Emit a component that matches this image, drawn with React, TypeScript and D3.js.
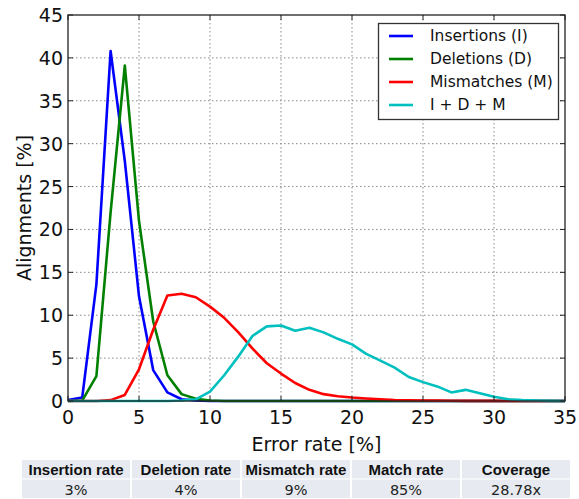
import React from 'react';
import * as d3 from 'd3';

const errorRate = d3.range(0, 36);
const insertions = [0.1, 0.4, 13.6, 40.8, 28, 12.2, 3.6, 1.0, 0.2, 0.05, 0, 0, 0, 0, 0, 0, 0, 0, 0, 0, 0, 0, 0, 0, 0, 0, 0, 0, 0, 0, 0, 0, 0, 0, 0, 0];
const deletions = [0, 0.05, 2.9, 22, 39.1, 21, 9.3, 3.0, 0.8, 0.25, 0.05, 0, 0, 0, 0, 0, 0, 0, 0, 0, 0, 0, 0, 0, 0, 0, 0, 0, 0, 0, 0, 0, 0, 0, 0, 0];
const mismatches = [0, 0, 0, 0.1, 0.7, 3.7, 8.3, 12.3, 12.5, 12.1, 11.0, 9.7, 8.0, 6.1, 4.4, 3.2, 2.1, 1.3, 0.8, 0.55, 0.4, 0.3, 0.2, 0.12, 0.08, 0.05, 0.04, 0.03, 0.02, 0.01, 0.01, 0, 0, 0, 0, 0];
const combined = [0, 0, 0, 0, 0, 0, 0, 0, 0.05, 0.2, 1.1, 3.0, 5.2, 7.6, 8.7, 8.8, 8.2, 8.55, 8.0, 7.25, 6.6, 5.5, 4.7, 3.9, 2.8, 2.2, 1.7, 1.0, 1.3, 0.9, 0.5, 0.2, 0.1, 0.05, 0.02, 0];

const seriesNames = ['Insertions (I)', 'Deletions (D)', 'Mismatches (M)', 'I + D + M'];
const seriesColors = ['#0000ff', '#008000', '#ff0000', '#00bfbf'];
const xTicks = [0, 5, 10, 15, 20, 25, 30, 35];
const yTicks = [0, 5, 10, 15, 20, 25, 30, 35, 40, 45];

const tableHeaders = ['Insertion rate', 'Deletion rate', 'Mismatch rate', 'Match rate', 'Coverage'];
const tableValues = ['3%', '4%', '9%', '85%', '28.78x'];

const font = 'DejaVu Sans, sans-serif';

export default function App() {
  const x = d3.scaleLinear().domain([0, 35]).range([68, 565]);
  const y = d3.scaleLinear().domain([0, 45]).range([401, 15]);
  const line = d3.line<number>()
    .x((d, i) => x(errorRate[i]))
    .y((d) => y(d));
  const series = [insertions, deletions, mismatches, combined];

  const col = d3.scaleBand<number>().domain(d3.range(5)).range([21, 571]);
  const row = d3.scaleBand<number>().domain([0, 1]).range([459.5, 498.5]);

  return (
    <svg width={579} height={499} style={{ position: 'absolute', left: 0, top: 0, background: '#fff' }}>
      {/* grid */}
      <g stroke="#888" strokeWidth={1} strokeDasharray="1.5,2.5">
        {xTicks.slice(1, -1).map((t) => (
          <line key={'gx' + t} x1={x(t)} x2={x(t)} y1={y(45)} y2={y(0)} />
        ))}
        {yTicks.slice(1, -1).map((t) => (
          <line key={'gy' + t} x1={x(0)} x2={x(35)} y1={y(t)} y2={y(t)} />
        ))}
      </g>
      {/* data */}
      <g fill="none" strokeWidth={2.6} strokeLinejoin="round">
        {series.map((s, i) => (
          <path key={i} d={line(s) || ''} stroke={seriesColors[i]} />
        ))}
      </g>
      {/* inward ticks */}
      <g stroke="#222" strokeWidth={1}>
        {xTicks.map((t) => (
          <g key={'tx' + t}>
            <line x1={x(t)} x2={x(t)} y1={y(0)} y2={y(0) - 5} />
            <line x1={x(t)} x2={x(t)} y1={y(45)} y2={y(45) + 5} />
          </g>
        ))}
        {yTicks.map((t) => (
          <g key={'ty' + t}>
            <line x1={x(0)} x2={x(0) + 5} y1={y(t)} y2={y(t)} />
            <line x1={x(35)} x2={x(35) - 5} y1={y(t)} y2={y(t)} />
          </g>
        ))}
      </g>
      <rect x={x(0)} y={y(45)} width={x(35) - x(0)} height={y(0) - y(45)} fill="none" stroke="#222" strokeWidth={1.3} />
      {/* tick labels */}
      <g fontFamily={font} fontSize={19} fill="#111">
        {xTicks.map((t) => (
          <text key={'lx' + t} x={x(t)} y={424} textAnchor="middle">{t}</text>
        ))}
        {yTicks.map((t) => (
          <text key={'ly' + t} x={63} y={y(t)} textAnchor="end" dominantBaseline="central">{t}</text>
        ))}
        <text x={(x(0) + x(35)) / 2} y={451} textAnchor="middle">Error rate [%]</text>
        <text transform={`translate(31,${(y(0) + y(45)) / 2}) rotate(-90)`} textAnchor="middle">Alignments [%]</text>
      </g>
      {/* legend */}
      <g>
        <rect x={378.5} y={23.5} width={180} height={96} fill="#fff" stroke="#333" strokeWidth={1.3} />
        {seriesNames.map((n, i) => (
          <g key={n} transform={`translate(0,${36 + i * 23})`}>
            <line x1={389} x2={413} y1={0} y2={0} stroke={seriesColors[i]} strokeWidth={2.6} />
            <text x={430} y={0} dominantBaseline="central" fontFamily={font} fontSize={15.5} fill="#111">{n}</text>
          </g>
        ))}
      </g>
      {/* table */}
      <g>
        {tableHeaders.map((h, i) => (
          <g key={h}>
            <rect x={col(i)! + 1} y={row(0)! + 0.5} width={col.bandwidth() - 2} height={row.bandwidth() - 1} fill="#e7ebf1" />
            <rect x={col(i)! + 1} y={row(1)! + 0.5} width={col.bandwidth() - 2} height={row.bandwidth() - 1} fill="#e7ebf1" />
            <text x={col(i)! + col.bandwidth() / 2} y={475} textAnchor="middle" fontFamily="Liberation Sans, Arial, sans-serif" fontWeight="bold" fontSize={15} fill="#111">{h}</text>
            <text x={col(i)! + col.bandwidth() / 2} y={495} textAnchor="middle" fontFamily={font} fontSize={14.5} fill="#222">{tableValues[i]}</text>
          </g>
        ))}
      </g>
    </svg>
  );
}
